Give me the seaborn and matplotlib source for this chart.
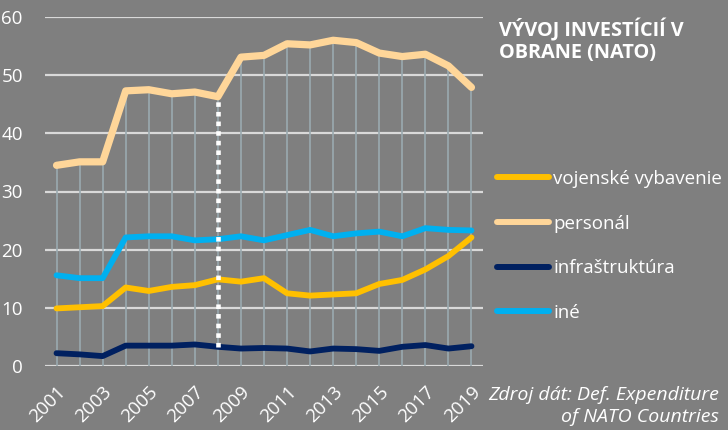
import matplotlib
matplotlib.use("Agg")
import matplotlib.pyplot as plt
from matplotlib.lines import Line2D
import seaborn as sns
import pandas as pd

years = list(range(2001, 2020))
vojenske = [9.9, 10.1, 10.3, 13.5, 12.9, 13.6, 13.9, 14.9, 14.5, 15.1, 12.5, 12.1, 12.3, 12.5, 14.1, 14.8, 16.6, 18.9, 22.1]
personal = [34.5, 35.1, 35.1, 47.3, 47.5, 46.8, 47.1, 46.3, 53.1, 53.4, 55.4, 55.2, 56.0, 55.6, 53.8, 53.2, 53.6, 51.6, 47.9]
infra = [2.2, 2.0, 1.7, 3.5, 3.5, 3.5, 3.7, 3.3, 3.0, 3.1, 3.0, 2.5, 3.0, 2.9, 2.6, 3.3, 3.6, 3.0, 3.4]
ine = [15.6, 15.1, 15.1, 22.1, 22.3, 22.3, 21.6, 21.8, 22.3, 21.6, 22.5, 23.4, 22.3, 22.8, 23.1, 22.3, 23.7, 23.4, 23.3]
series_names = ["vojenské vybavenie", "personál", "infraštruktúra", "iné"]
colors = ["#FFC000", "#FFD699", "#002060", "#00B0F0"]
xtick_years = list(range(2001, 2020, 2))
yticks = [0, 10, 20, 30, 40, 50, 60]
marker_year = 2008

df = pd.DataFrame({
    "rok": years * 4,
    "hodnota": vojenske + personal + infra + ine,
    "seria": sum([[n] * len(years) for n in series_names], []),
})

bg = "#7F7F7F"
plt.rcParams["font.family"] = ["Open Sans", "DejaVu Sans"]

fig = plt.figure(figsize=(7.28, 4.30), dpi=100, facecolor=bg)
ax = fig.add_axes([45 / 728, 1 - 366 / 430, (483 - 45) / 728, (366 - 17) / 430])
ax.set_facecolor(bg)

# drop lines from personal down to 0
ax.vlines(years, 0, personal, colors="#9AAAB0", linewidth=1.2, zorder=1)

widths = {"vojenské vybavenie": 4.2, "personál": 5.2, "infraštruktúra": 4.2, "iné": 4.2}
sns.lineplot(data=df, x="rok", y="hodnota", hue="seria", hue_order=series_names,
             palette=dict(zip(series_names, colors)), size="seria",
             sizes=widths, ax=ax, zorder=3, legend=False)
for line in ax.lines:
    line.set_solid_capstyle("round")
    line.set_solid_joinstyle("round")

# dotted marker at 2008
i8 = years.index(marker_year)
ax.vlines([marker_year], infra[i8], personal[i8], colors="white", linewidth=3.3,
          linestyles=(0, (1, 1.1)), zorder=4)

ax.set_xlim(2000.5, 2019.5)
ax.set_ylim(0, 60)
ax.set_yticks(yticks)
ax.set_xticks(xtick_years)
ax.set_xticklabels([str(y) for y in xtick_years], rotation=45, ha="right",
                   rotation_mode="anchor")
ax.tick_params(axis="both", length=0, colors="white", labelsize=13.5)
ax.tick_params(axis="y", pad=16)
ax.tick_params(axis="x", pad=12)
ax.yaxis.grid(True, color="#D9D9D9", linewidth=1.6, zorder=0)
ax.xaxis.grid(False)
ax.set_axisbelow(True)
for s in ax.spines.values():
    s.set_visible(False)
ax.set_xlabel("")
ax.set_ylabel("")

hs = [Line2D([], [], color=c, linewidth=4.3, solid_capstyle="round") for c in colors]
fig.legend(hs, series_names, loc="upper left", bbox_to_anchor=(497 / 728, 1 - 170 / 430),
           frameon=False, fontsize=13.5, labelcolor="white", handlelength=2.75,
           handletextpad=0.25, labelspacing=1.42, borderaxespad=0, borderpad=0)

fig.text(499 / 728, 1 - 18 / 430, "VÝVOJ INVESTÍCIÍ V\nOBRANE (NATO)", color="white",
         fontsize=14.3, fontweight="bold", va="top", ha="left", linespacing=1.15)
fig.text(719 / 728, 1 - 386 / 430, "Zdroj dát: Def. Expenditure\nof NATO Countries",
         color="white", fontsize=14, fontstyle="italic", va="top", ha="right",
         linespacing=1.3)

fig.savefig("out.png", dpi=100, facecolor=bg)
